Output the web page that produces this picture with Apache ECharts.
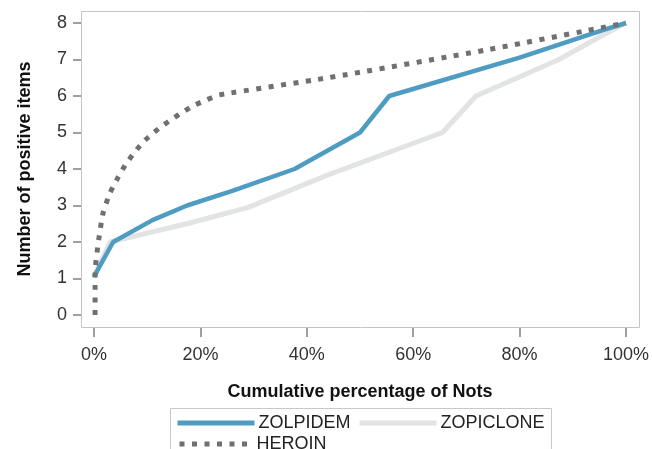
<!DOCTYPE html>
<html>
<head>
<meta charset="utf-8">
<script src="https://cdn.jsdelivr.net/npm/echarts@6/dist/echarts.min.js"></script>
<style>html,body{margin:0;padding:0;background:#fff}#c{width:652px;height:449px}</style>
</head>
<body>
<div id="c"></div>
<script>
const xTicks = [0, 20, 40, 60, 80, 100];
const yTicks = [0, 1, 2, 3, 4, 5, 6, 7, 8];
const seriesNames = ['ZOLPIDEM', 'ZOPICLONE', 'HEROIN'];
const zolpidemX = [0, 3.6, 11, 17.5, 26, 37.7, 50, 55.5, 80, 95.5, 100];
const zolpidemY = [1.05, 2, 2.6, 3, 3.4, 4, 5, 6, 7.05, 7.8, 8];
const zopicloneX = [0, 3, 18, 29, 44, 65.5, 71.8, 87.4, 96, 100];
const zopicloneY = [1.05, 2, 2.52, 2.95, 3.84, 5, 6, 7, 7.7, 8];
const heroinX = [0.2, 0.2, 0.8, 1.7, 3, 4.6, 6.1, 7.7, 9.3, 11.1, 13, 14.9, 16.8, 18.9, 21.1, 23.6, 44, 73.7, 100];
const heroinY = [0, 1.15, 1.97, 2.79, 3.34, 3.79, 4.16, 4.47, 4.75, 4.98, 5.2, 5.39, 5.57, 5.75, 5.89, 6.03, 6.5, 7.26, 8];

const pairs = (xs, ys) => xs.map((x, i) => [x, ys[i]]);
const FONT = 'Liberation Sans, Arial, sans-serif';

const chart = echarts.init(document.getElementById('c'), null, {renderer: 'canvas'});
const legendBase = {
  orient: 'horizontal', padding: 0, itemWidth: 77, itemHeight: 14, itemGap: 5,
  textStyle: {fontFamily: FONT, fontSize: 18, color: '#222', padding: [0, 0, 0, -1]},
  lineStyle: {width: 5}, itemStyle: {opacity: 0, borderWidth: 0}, selectedMode: false
};
chart.setOption({
  animation: false,
  grid: {left: 94, top: 23, right: 25, bottom: 134, show: false},
  xAxis: {
    type: 'value', min: xTicks[0], max: xTicks[xTicks.length - 1], interval: 20, offset: 13,
    axisLine: {show: false, onZero: false}, splitLine: {show: false},
    axisTick: {show: true, inside: false, length: 9, lineStyle: {color: '#808080', width: 1.5}},
    axisLabel: {formatter: '{value}%', margin: 18, fontFamily: FONT, fontSize: 18, color: '#333'},
    name: 'Cumulative percentage of Nots', nameLocation: 'middle', nameGap: 55,
    nameTextStyle: {fontFamily: FONT, fontSize: 18, fontWeight: 'bold', color: '#111'}
  },
  yAxis: {
    type: 'value', min: yTicks[0], max: yTicks[yTicks.length - 1], interval: 1, offset: 13,
    axisLine: {show: false, onZero: false}, splitLine: {show: false},
    axisTick: {show: true, inside: false, length: 8, lineStyle: {color: '#808080', width: 1.5}},
    axisLabel: {margin: 14, fontFamily: FONT, fontSize: 18, color: '#333'},
    name: 'Number of positive items', nameLocation: 'middle', nameGap: 47,
    nameTextStyle: {fontFamily: FONT, fontSize: 18, fontWeight: 'bold', color: '#111'}
  },
  legend: [
    Object.assign({}, legendBase, {data: [seriesNames[0]], left: 175, top: 414}),
    Object.assign({}, legendBase, {data: [seriesNames[1]], left: 357, top: 414}),
    Object.assign({}, legendBase, {data: [seriesNames[2]], left: 177, top: 435, itemWidth: 73})
  ],
  graphic: [
    {type: 'rect', shape: {x: 81.5, y: 11.5, width: 558, height: 316}, style: {fill: 'none', stroke: '#c4c4c4', lineWidth: 1}, silent: true, z: 0},
    {type: 'rect', shape: {x: 170.5, y: 408.5, width: 381, height: 60}, style: {fill: 'none', stroke: '#c8c8c8', lineWidth: 1}, silent: true}
  ],
  series: [
    {name: seriesNames[1], type: 'line', data: pairs(zopicloneX, zopicloneY), symbol: 'none', z: 2, clip: false,
     lineStyle: {color: '#e2e3e3', width: 5}, itemStyle: {color: '#e2e3e3'}},
    {name: seriesNames[0], type: 'line', data: pairs(zolpidemX, zolpidemY), symbol: 'none', z: 3, clip: false,
     lineStyle: {color: '#4f9cc2', width: 4.5}, itemStyle: {color: '#4f9cc2'}},
    {name: seriesNames[2], type: 'line', data: pairs(heroinX, heroinY), symbol: 'none', z: 4, smooth: 0.2, clip: false,
     lineStyle: {color: '#707070', width: 5, type: [5, 7.5]}, itemStyle: {color: '#707070'}}
  ]
});
</script>
</body>
</html>
